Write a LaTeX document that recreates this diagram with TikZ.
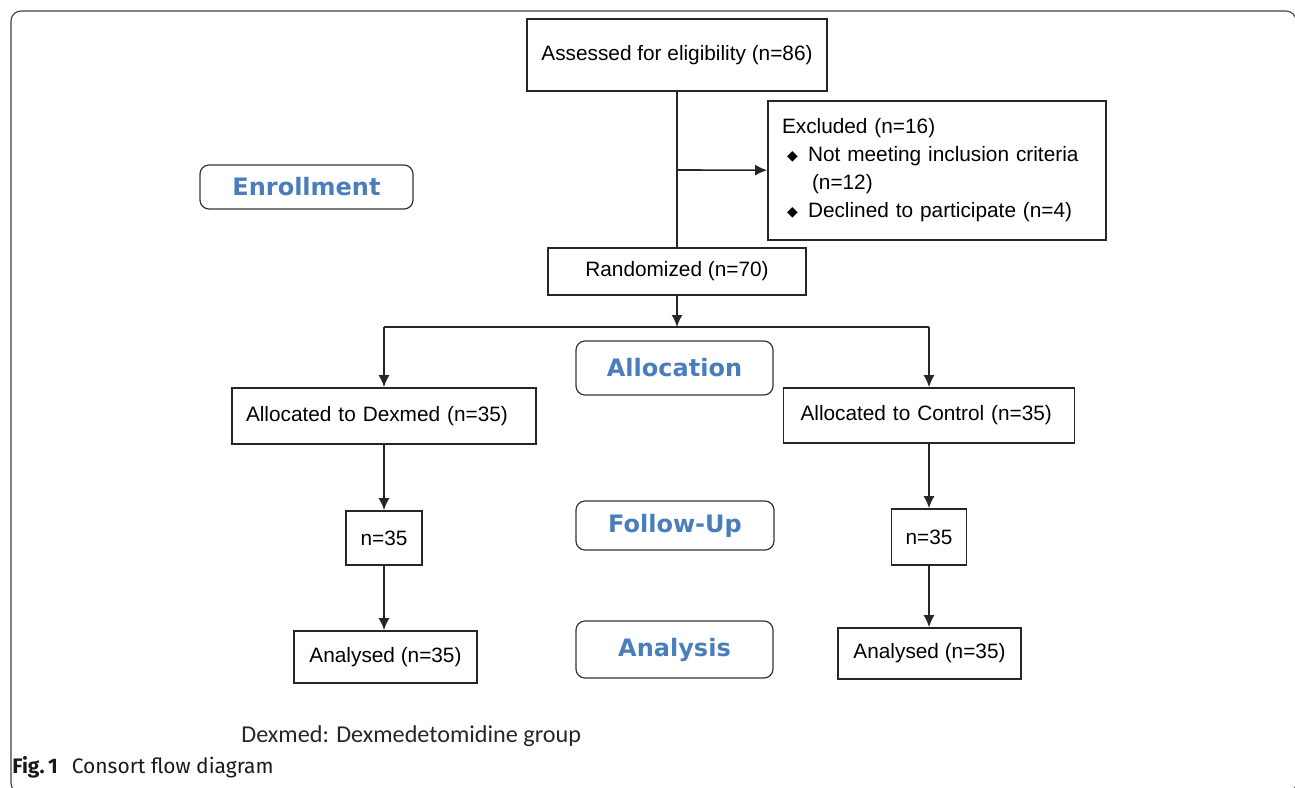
\documentclass[tikz,border=0pt]{standalone}
\usepackage{fontspec}
\setmainfont{Liberation Sans}
\newfontfamily\dejavu{DejaVu Sans}
\newfontfamily\carlito{Carlito}
\newfontfamily\capfont{Fira Sans}
\usetikzlibrary{arrows.meta}
\definecolor{stageblue}{RGB}{74,126,187}
\newcommand{\bul}{\makebox[13pt][l]{\hspace{2.5pt}\raisebox{0.6pt}{\dejavu\fontsize{7}{8}\selectfont ◆}}}
\begin{document}
\begin{tikzpicture}[x=0.5pt,y=-0.5pt,
  box/.style={draw=black!85,line width=0.8pt,inner sep=0pt,font=\fontsize{10.4}{14}\selectfont},
  stage/.style={draw=black!80,line width=0.6pt,rounded corners=4.5pt,inner sep=0pt,
    text=stageblue,font=\dejavu\bfseries\fontsize{12}{14}\selectfont},
  arr/.style={draw=black!85,line width=0.8pt,-{Latex[length=6pt,width=5.5pt]}},
  line/.style={draw=black!85,line width=0.8pt}]
\useasboundingbox (0,0) rectangle (1295,787);
\clip (0,0) rectangle (1295,787);
\draw[black!75,line width=0.55pt,rounded corners=5pt] (11,11) rectangle (1296,793);
% stages
\node[stage,minimum width=106.5pt,minimum height=22pt] (enroll) at (306.5,187) {Enrollment};
\node[stage,minimum width=98.5pt,minimum height=27pt] (alloc) at (674.5,368) {Allocation};
\node[stage,minimum width=99pt,minimum height=24.5pt] (follow) at (675,525.5) {Follow-Up};
\node[stage,minimum width=98.5pt,minimum height=28.5pt] (analysis) at (674.5,649.5) {Analysis};
% boxes
\node[box,minimum width=150pt,minimum height=36pt] (assess) at (677,55) {Assessed for eligibility (n=86)};
\node[box,minimum height=69.5pt,inner xsep=7pt,text width=155pt,align=left] (excl) at (937,170.5)
  {Excluded (n=16)\\ \bul Not meeting inclusion criteria\\ \hspace{15pt}(n=12)\\ \bul Declined to participate (n=4)};
\node[box,minimum width=129pt,minimum height=23.5pt] (rand) at (677,271.5) {Randomized (n=70)};
\node[box,minimum height=28pt,inner xsep=7pt,text width=138pt,align=left] (dex) at (384,416) {Allocated to Dexmed (n=35)};
\node[box,minimum height=27.5pt,inner xsep=8.5pt,text width=128.5pt,align=left] (ctl) at (929,415.5) {Allocated to Control (n=35)};
\node[box,minimum width=38pt,minimum height=27pt] (nl) at (384,538) {n=35};
\node[box,minimum width=37.5pt,minimum height=28pt] (nr) at (929,537) {n=35};
\node[box,minimum width=91.5pt,minimum height=26pt] (anl) at (385.5,657) {Analysed (n=35)};
\node[box,minimum width=91.5pt,minimum height=25.5pt] (anr) at (929.5,653.5) {Analysed (n=35)};
% connectors
\coordinate (branch) at (677,170);
\coordinate (split) at (677,327);
\coordinate (splitL) at (384,327);
\coordinate (splitR) at (929,327);
\draw[line] (assess) -- (rand);
\draw[arr] (branch) -- (excl);
\draw[arr] (rand) -- (split);
\draw[line] (splitL) -- (splitR);
\draw[arr] (splitL) -- (dex);
\draw[arr] (splitR) -- (ctl);
\draw[arr] (dex) -- (nl);
\draw[arr] (ctl) -- (nr);
\draw[arr] (nl) -- (nl |- anl.north);
\draw[arr] (nr) -- (nr |- anr.north);
% captions
\node[anchor=base west,inner sep=0pt,font=\carlito\fontsize{12.1}{14}\selectfont,text=black!85] (note) at (241,742) {Dexmed: Dexmedetomidine group};
\node[anchor=base west,inner sep=0pt,font=\capfont\fontsize{10.5}{12}\selectfont,text=black!90] (cap) at (12,773) {\textbf{Fig.\,1}\hspace{7pt}Consort flow diagram};
\end{tikzpicture}
\end{document}
